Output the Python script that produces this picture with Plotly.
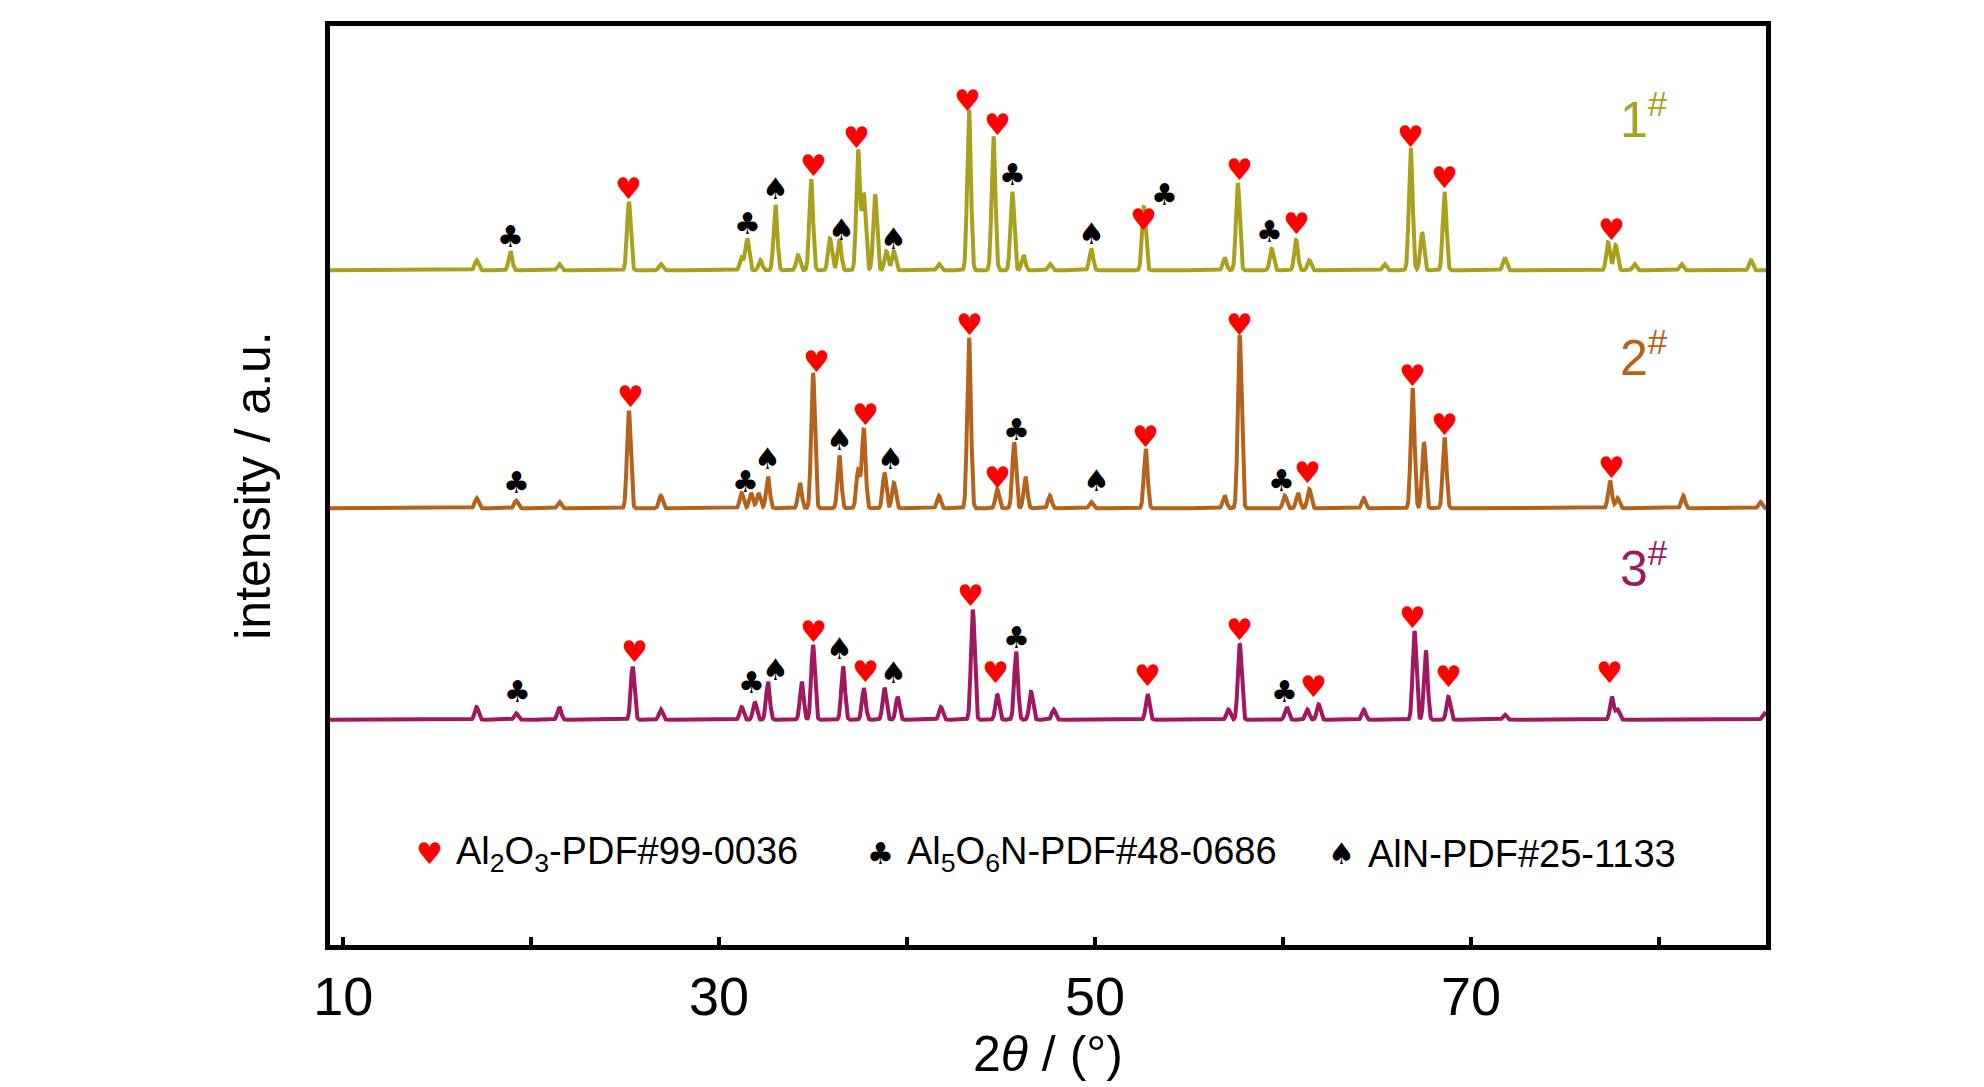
import numpy as np
import plotly.graph_objects as go

# peak lists: (2theta, height above baseline)
peaks_1 = [(17.1, 8), (18.9, 15), (21.5, 5), (25.2, 54), (26.9, 5), (31.2, 10), (31.5, 25), (32.2, 8),
           (33.0, 52), (34.2, 12), (34.9, 72), (35.9, 25), (36.4, 25), (37.4, 95), (37.7, 60), (38.3, 60),
           (38.9, 15), (39.3, 15), (41.7, 5), (43.3, 127), (44.6, 106), (45.6, 62), (46.2, 12), (47.6, 5),
           (49.8, 17), (52.6, 50), (56.9, 10), (57.6, 69), (59.4, 17), (60.7, 24), (61.4, 8), (65.4, 5),
           (66.8, 97), (67.4, 30), (68.6, 62), (71.8, 10), (77.3, 22), (77.7, 20), (78.7, 5), (81.2, 5), (84.9, 8)]
peaks_2 = [(17.1, 8), (19.2, 6), (21.5, 5), (25.2, 77), (26.9, 10), (31.2, 12), (31.7, 12), (32.1, 12),
           (32.6, 25), (34.3, 20), (35.0, 107), (36.4, 42), (37.4, 30), (37.7, 62), (38.8, 28), (39.3, 20),
           (41.7, 10), (43.3, 135), (44.8, 15), (45.7, 52), (46.3, 25), (47.6, 10), (49.8, 5), (52.7, 47),
           (56.9, 10), (57.7, 137), (60.1, 10), (60.8, 12), (61.4, 15), (64.3, 8), (66.9, 95), (67.5, 52),
           (68.6, 56), (77.4, 22), (77.8, 8), (81.3, 10), (85.4, 5)]
peaks_3 = [(17.1, 10), (19.2, 5), (21.5, 10), (25.4, 42), (26.9, 8), (31.2, 10), (31.9, 14), (32.6, 30),
           (34.4, 30), (35.0, 59), (36.6, 42), (37.7, 25), (38.8, 25), (39.5, 18), (41.8, 10), (43.5, 87),
           (44.8, 20), (45.8, 54), (46.6, 22), (47.8, 8), (52.8, 20), (57.1, 8), (57.7, 60), (60.2, 10),
           (61.3, 8), (61.9, 12), (64.3, 8), (67.0, 70), (67.6, 55), (68.8, 18), (71.8, 4), (77.5, 18),
           (77.8, 8), (85.6, 5)]

# phase markers: (symbol, 2theta, height above baseline)
marks_1 = [("c", 18.9, 27), ("h", 25.2, 65), ("c", 31.5, 37), ("s", 33.0, 65), ("h", 35.0, 83), ("s", 36.5, 32),
           ("h", 37.3, 105), ("s", 39.3, 25), ("h", 43.2, 134), ("h", 44.8, 115), ("c", 45.6, 76), ("s", 49.8, 29),
           ("h", 52.6, 40), ("c", 53.7, 60), ("h", 57.7, 80), ("c", 59.3, 31), ("h", 60.7, 37), ("h", 66.8, 106),
           ("h", 68.6, 73), ("h", 77.5, 32)]
marks_2 = [("c", 19.2, 20), ("h", 25.3, 88), ("c", 31.4, 21), ("s", 32.6, 39), ("h", 35.2, 116), ("s", 36.4, 54),
           ("h", 37.8, 74), ("s", 39.1, 39), ("h", 43.3, 145), ("h", 44.8, 24), ("c", 45.8, 62), ("s", 50.1, 22),
           ("h", 52.7, 57), ("h", 57.7, 145), ("c", 59.9, 22), ("h", 61.3, 28), ("h", 66.9, 105), ("h", 68.6, 66),
           ("h", 77.5, 32)]
marks_3 = [("c", 19.3, 22), ("h", 25.5, 54), ("c", 31.7, 29), ("s", 33.0, 40), ("h", 35.0, 70), ("s", 36.4, 56),
           ("h", 37.8, 38), ("s", 39.3, 37), ("h", 43.4, 98), ("h", 44.7, 37), ("c", 45.8, 65), ("h", 52.8, 35),
           ("h", 57.7, 71), ("c", 60.1, 22), ("h", 61.6, 26), ("h", 66.9, 81), ("h", 68.8, 34), ("h", 77.4, 37)]

samples = ["1<sup>#</sup>", "2<sup>#</sup>", "3<sup>#</sup>"]
offsets = [533, 345, 178]
colors = ["#A9A11E", "#B5621C", "#A0185F"]

glyph = {"h": ("♥", "#FF0000"), "c": ("♣", "black"), "s": ("♠", "black")}
FONT = "Liberation Sans"

x = np.linspace(9.3, 85.7, 4000)


def pattern(peaks, base):
    y = np.full_like(x, base, dtype=float)
    for pos, h in peaks:
        y += h * np.exp(-((x - pos) / 0.14) ** 2)
    return y


fig = go.Figure()
annos = []
for peaks, marks, base, col, name in zip([peaks_1, peaks_2, peaks_3], [marks_1, marks_2, marks_3],
                                         offsets, colors, samples):
    fig.add_trace(go.Scatter(x=x, y=pattern(peaks, base), mode="lines",
                             line=dict(color=col, width=4), showlegend=False))
    for s, pos, h in marks:
        ch, c = glyph[s]
        annos.append(dict(x=pos, y=base + h, text=ch, showarrow=False,
                          font=dict(size=30, color=c, family="DejaVu Sans")))
    annos.append(dict(x=79.2, y=base + 122, text=name, showarrow=False,
                      font=dict(size=50, color=col, family=FONT)))

legend = [("h", 14.6, "Al<sub>2</sub>O<sub>3</sub>-PDF#99-0036"),
          ("c", 38.6, "Al<sub>5</sub>O<sub>6</sub>N-PDF#48-0686"),
          ("s", 63.1, "AlN-PDF#25-1133")]
for s, pos, label in legend:
    ch, c = glyph[s]
    annos.append(dict(x=pos, y=72, text=ch, showarrow=False,
                      font=dict(size=30, color=c, family="DejaVu Sans")))
    annos.append(dict(x=pos + 1.3, y=72, text=label, showarrow=False, xanchor="left",
                      font=dict(size=38, color="black", family=FONT)))

fig.update_layout(
    width=1984, height=1087, plot_bgcolor="white", paper_bgcolor="white",
    margin=dict(l=322, r=226, t=18, b=150),
    annotations=annos,
    xaxis=dict(range=[9.3, 85.7], tickvals=[10, 20, 30, 40, 50, 60, 70, 80],
               ticktext=["10", "", "30", "", "50", "", "70", ""],
               ticks="inside", ticklen=8, tickwidth=4, tickcolor="black",
               showline=True, linecolor="black", linewidth=5, mirror=True, showgrid=False, zeroline=False,
               tickfont=dict(size=54, family=FONT, color="black"),
               title=dict(text="2<i>θ</i> / (°)", standoff=4,
                          font=dict(size=50, family=FONT, color="black"))),
    yaxis=dict(range=[0, 726], showticklabels=False, ticks="", showline=True, linecolor="black",
               linewidth=5, mirror=True, showgrid=False, zeroline=False,
               title=dict(text="intensity / a.u.", standoff=40,
                          font=dict(size=50, family=FONT, color="black"))),
)

fig.write_html("out.html")
